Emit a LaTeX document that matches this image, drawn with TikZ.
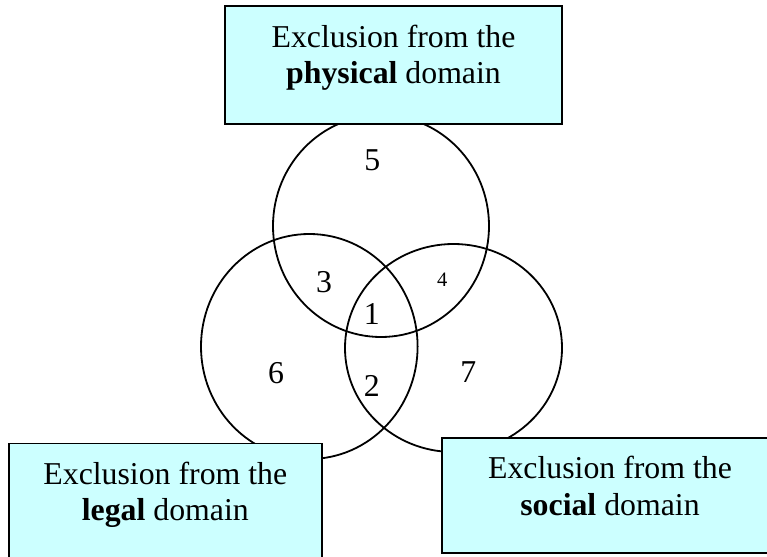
\documentclass[tikz,border=0pt]{standalone}
\usepackage{fontspec}
\setmainfont{Liberation Serif}
\usetikzlibrary{positioning}
\definecolor{boxcyan}{RGB}{204,255,255}

\begin{document}
\begin{tikzpicture}[x=1pt, y=-1pt, line width=1.8pt,
  domainbox/.style={draw, fill=boxcyan, inner sep=0pt},
  domaintext/.style={align=center, inner sep=0pt, font=\fontsize{31.8}{36.5}\selectfont},
  region/.style={inner sep=0pt, font=\fontsize{31.8}{36}\selectfont}]
\useasboundingbox (0,0) rectangle (767,556);
\clip (0,0) rectangle (767,556);
% the three domains
\draw (381,226) ellipse [x radius=108, y radius=111];
\draw (309.3,346.5) ellipse [x radius=108.3, y radius=112.5];
\draw (453.5,348) ellipse [x radius=108.5, y radius=104];
% regions
\node[region] (r5) at (372.3,160.3) {5};
\node[region] (r3) at (324,281.7) {3};
\node[region, font=\fontsize{20.5}{24}\selectfont] (r4) at (442.3,280) {4};
\node[region] (r1) at (371.7,314) {1};
\node[region] (r6) at (276,372.7) {6};
\node[region] (r2) at (371.7,386) {2};
\node[region] (r7) at (468.3,371.7) {7};
% labels
\node[domainbox, minimum width=337pt, minimum height=118pt] (physical) at (393.5,65) {};
\node[domaintext, below=19pt of physical.north] (physicaltext) {Exclusion from the\\\textbf{physical} domain};
\node[domainbox, minimum width=312.7pt, minimum height=131pt] (legal) at (165.3,509) {};
\node[domaintext, below=18.5pt of legal.north] (legaltext) {Exclusion from the\\\textbf{legal} domain};
\node[domainbox, minimum width=336.6pt, minimum height=115pt] (social) at (610,495.5) {};
\node[domaintext, below=18.5pt of social.north] (socialtext) {Exclusion from the\\\textbf{social} domain};
\end{tikzpicture}
\end{document}
